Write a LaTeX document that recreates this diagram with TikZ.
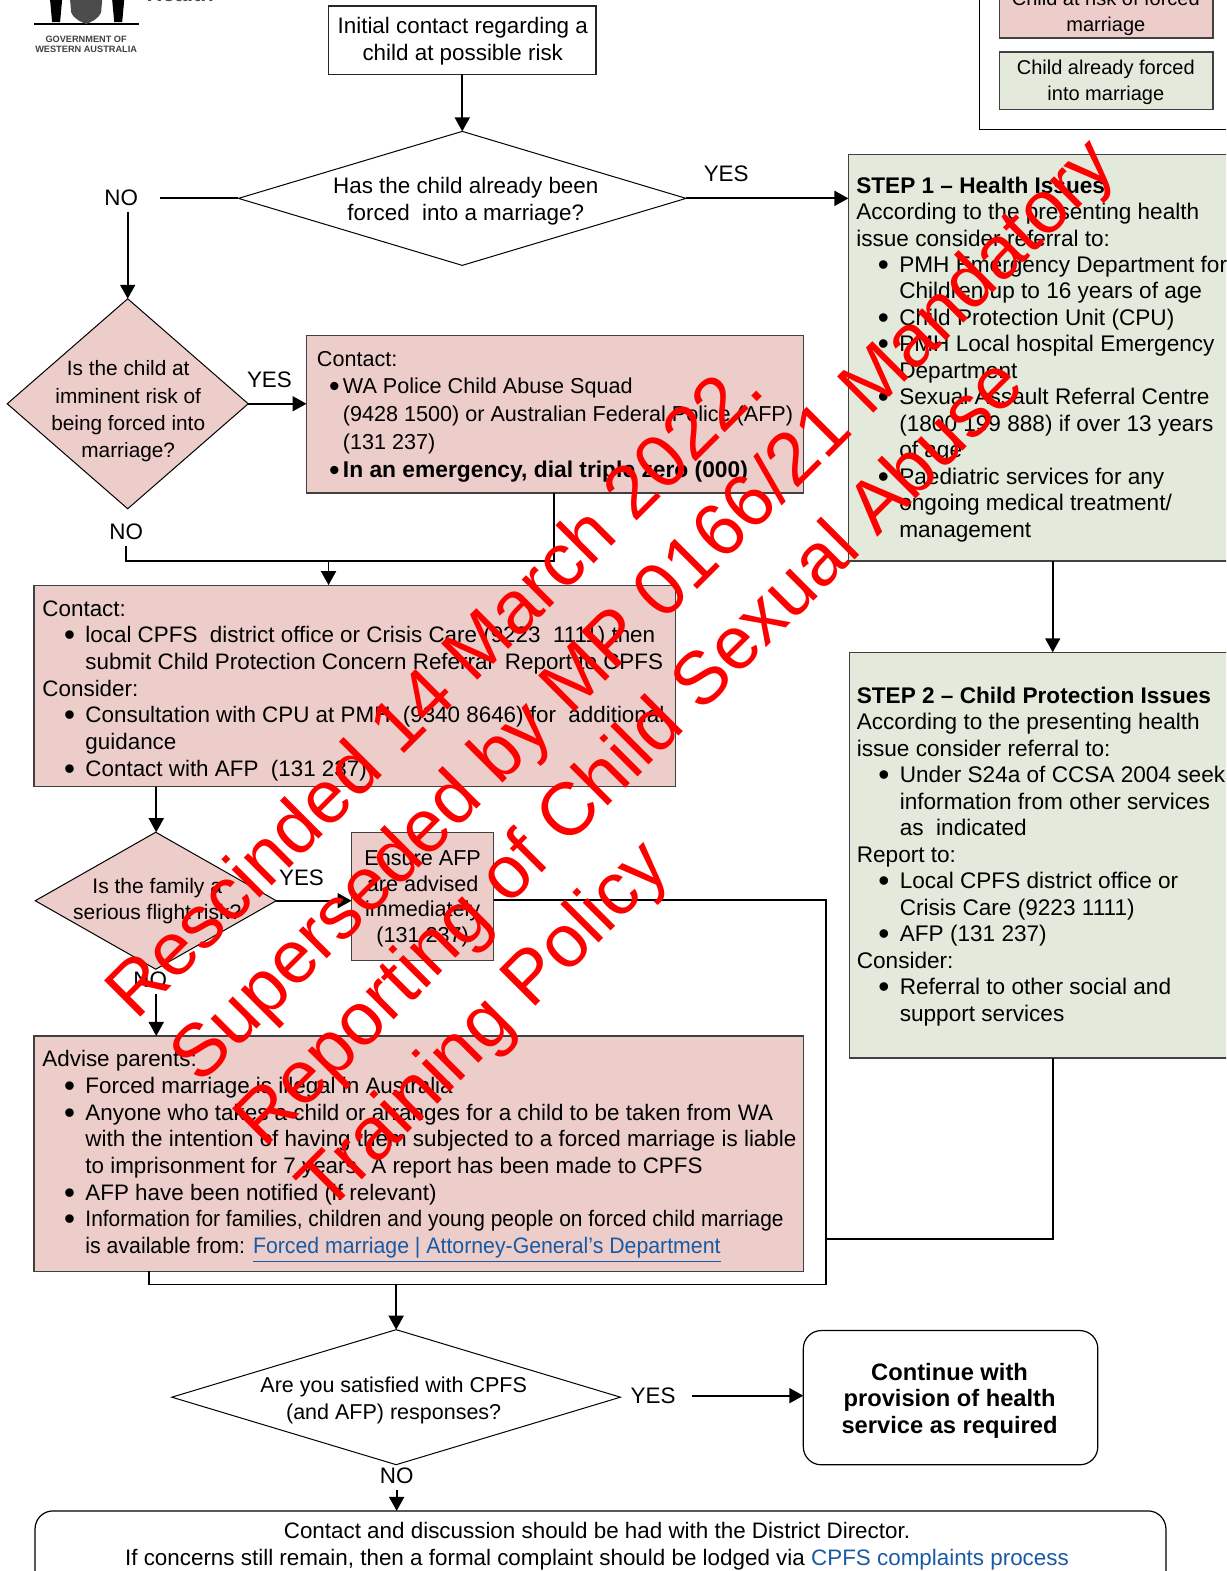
\documentclass[tikz,border=0pt]{standalone}
\usepackage{fontspec}
\usepackage{graphicx}
\setmainfont{Liberation Sans}
\usetikzlibrary{arrows.meta,fit,shapes.geometric}
\colorlet{box edge}{black!75}
\definecolor{risk fill}{RGB}{236,205,202}
\definecolor{forced fill}{RGB}{228,234,219}
\definecolor{link blue}{RGB}{25,90,165}
\tikzset{
  box/.style={draw=box edge, line width=0.6pt, inner sep=0pt, outer sep=0pt},
  riskbox/.style={box, fill=risk fill},
  forcedbox/.style={box, fill=forced fill},
  plainbox/.style={box, draw=black, fill=white},
  decision/.style={diamond, draw=black, line width=0.5pt, aspect=1, inner sep=0pt, outer sep=0pt},
  block/.style={anchor=north west, align=left, inner sep=0pt, font=\fontsize{11.2}{13.35}\selectfont},
  words/.style={align=center, inner sep=0pt, font=\fontsize{11.2}{13.5}\selectfont},
  answer/.style={inner sep=3pt, font=\fontsize{11.2}{13.35}\selectfont},
  stamp/.style={anchor=base west, rotate=45, inner sep=0pt, text=red, font=\fontsize{37.3}{45}\selectfont}
  }
\tikzstyle{rail} = [draw, line width=0.9pt, -]
\tikzstyle{flow} = [draw, line width=0.9pt, -{Triangle[length=7pt,width=7.5pt]}]
\newcommand{\bigdot}{\raisebox{-1.5pt}{\scalebox{1.4}{\textbullet}}}
\newcommand{\itm}{\hspace*{21.5pt}\llap{\bigdot\hspace{5.2pt}}}
\newcommand{\cnt}{\hspace*{21.5pt}}
\newcommand{\alertitm}{\hspace*{13pt}\llap{\bigdot\hspace{1.6pt}}}
\newcommand{\weblink}[1]{\textcolor{link blue}{\underline{#1}}}
\begin{document}
\begin{tikzpicture}[x=0.50082pt,y=-0.50096pt]

    \clip (0,0) rectangle (1224,1568);

    % The logo in the corner
    \fill (34,23) -- (139,23) -- (139,25) -- (34,25) -- cycle;
    \fill (50,0) -- (62,0) -- (60,22) -- (52,22) -- cycle;
    \fill (112,0) -- (124,0) -- (122,22) -- (114,22) -- cycle;
    \fill[black!70] (70,0) -- (102,0) -- (101,12) .. controls (98,20) and (90,22) .. (86,24) .. controls (82,22) and (74,20) .. (71,12) -- cycle;
    \node[words, font=\bfseries\fontsize{4.6}{5.2}\selectfont, text=black!75] (crestname) at (86,44) {GOVERNMENT OF\\WESTERN AUSTRALIA};
    \node[words, anchor=base, font=\bfseries\fontsize{11}{12}\selectfont, text=black!70] (healthword) at (180,2) {Health};

    % The legend
    \node[plainbox, fit={(978,-30) (1240,129)}] (legend) {};
    \node[riskbox, fit={(998,-30) (1211,38)}] (legendrisk) {};
    \node[forcedbox, fit={(998,52) (1211,109)}] (legendforced) {};
    \node[words, font=\fontsize{10}{12.9}\selectfont] (legendrisktext) at (1104,13.5) {Child at risk of forced\\marriage};
    \node[words, font=\fontsize{10}{12.9}\selectfont] (legendforcedtext) at (1104,82) {Child already forced\\into marriage};

    % The boxes
    \node[plainbox, draw=black!85, fit={(328,6) (595,74)}] (initial) {};
    \node[riskbox, fit={(306,335) (802,492)}] (police) {};
    \node[riskbox, fit={(34,584) (674,785)}] (cpfs) {};
    \node[riskbox, fit={(351,831) (493,959)}] (ensure) {};
    \node[riskbox, fit={(34,1034) (802,1269)}] (advise) {};
    \node[forcedbox, fit={(847,154) (1240,560)}] (stepone) {};
    \node[forcedbox, fit={(848,651) (1240,1056)}] (steptwo) {};
    \node[plainbox, draw=black, rounded corners=9pt, fit={(802,1328) (1096,1462)}] (proceed) {};
    \node[plainbox, draw=black, rounded corners=9pt, fit={(35,1508) (1164,1600)}] (director) {};

    % The questions
    \node[decision, minimum width=223.8pt, minimum height=67pt] (forced) at (461.5,198) {};
    \node[decision, fill=risk fill, minimum width=120.5pt, minimum height=105pt] (imminent) at (127.5,403) {};
    \node[decision, fill=risk fill, minimum width=120.5pt, minimum height=68.5pt] (flight) at (155.5,899) {};
    \node[decision, minimum width=224.3pt, minimum height=67.5pt] (satisfied) at (395.5,1394.5) {};

    % The answers
    \foreach \pos/\name/\said in {{(121,197)/noforced/NO}, {(725,173)/yesforced/YES}, {(269,379)/yesimminent/YES},
      {(126,531)/noimminent/NO}, {(301,876)/yesflight/YES}, {(150,978)/noflight/NO}, {(652,1393)/yessatisfied/YES}, {(396,1473)/nosatisfied/NO}}
      \node[answer] (\name) at \pos {\said};

    % The texts
    \node[words] (initialtext) at (462,41) {Initial contact regarding a\\child at possible risk};
    \node[words] (forcedtext) at (465,201) {Has the child already been\\forced\ \ into a marriage?};
    \node[words, font=\fontsize{10.4}{13.6}\selectfont] (imminenttext) at (128,410.5) {Is the child at\\imminent risk of\\being forced into\\marriage?};
    \node[words, font=\fontsize{10.5}{13.2}\selectfont] (flighttext) at (157,899.5) {Is the family a\\serious flight risk?};
    \node[words, font=\fontsize{10.8}{12.9}\selectfont] (ensuretext) at (422,897) {Ensure AFP\\are advised\\immediately\\(131 237)};
    \node[words, font=\fontsize{10.75}{13.5}\selectfont] (satisfiedtext) at (393,1397.5) {Are you satisfied with CPFS\\(and AFP) responses?};
    \node[words, font=\bfseries\fontsize{11.85}{13.35}\selectfont] (proceedtext) at (948,1398) {Continue with\\provision of health\\service as required};
    \node[words] (directortext) at (596,1545.5) {Contact and discussion should be had with the District Director.\\If concerns still remain, then a formal complaint should be lodged via \weblink{CPFS complaints process}};

    \node[block, font=\fontsize{10.8}{13.9}\selectfont] (policetext) at (316,350) {Contact:\\
      \alertitm WA Police Child Abuse Squad\\
      \hspace*{13pt}(9428 1500) or Australian Federal Police (AFP)\\
      \hspace*{13pt}(131 237)\\
      \alertitm\textbf{\fontsize{11.4}{13.9}\selectfont In an emergency, dial triple zero (000)}};
    \node[block] (cpfstext) at (42,599) {Contact:\\
      \itm local CPFS\ \ district office or Crisis Care (9223\ \ 1111) then\\
      \cnt submit Child Protection Concern Referral\ \ Report to CPFS\\
      Consider:\\
      \itm Consultation with CPU at PMH\ \ (9340 8646) for\ \ additional\\
      \cnt guidance\\
      \itm Contact with AFP\ \ (131 237)};
    \node[block] (advisetext) at (42,1048) {Advise parents:\\
      \itm Forced marriage is illegal in Australia\\
      \itm Anyone who takes a child or arranges for a child to be taken from WA\\
      \cnt with the intention of having them subjected to a forced marriage is liable\\
      \cnt to imprisonment for 7 years. A report has been made to CPFS\\
      \itm AFP have been notified (if relevant)\\
      \itm \scalebox{0.933}[1]{Information for families, children and young people on forced child marriage}\\
      \cnt \scalebox{0.95}[1]{is available from: \weblink{Forced marriage | Attorney-General's Department}}};
    \node[block, font=\fontsize{11.3}{13.23}\selectfont] (steponetext) at (854.5,176) {\textbf{STEP 1 – Health Issues}\\
      According to the presenting health\\
      issue consider referral to:\\
      \itm PMH Emergency Department for\\
      \cnt Children up to 16 years of age\\
      \itm Child Protection Unit (CPU)\\
      \itm PMH Local hospital Emergency\\
      \cnt Department\\
      \itm Sexual Assault Referral Centre\\
      \cnt (1800 199 888) if over 13 years\\
      \cnt of age\\
      \itm Paediatric services for any\\
      \cnt ongoing medical treatment/\\
      \cnt management};
    \node[block, font=\fontsize{11.3}{13.25}\selectfont] (steptwotext) at (855,685) {\textbf{STEP 2 – Child Protection Issues}\\
      According to the presenting health\\
      issue consider referral to:\\
      \itm Under S24a of CCSA 2004 seek\\
      \cnt information from other services\\
      \cnt as\ \ indicated\\
      Report to:\\
      \itm Local CPFS district office or\\
      \cnt Crisis Care (9223 1111)\\
      \itm AFP (131 237)\\
      Consider:\\
      \itm Referral to other social and\\
      \cnt support services};

    % The points where the lines turn
    \coordinate (policedrop) at (553,560);
    \coordinate (cpfsdrop) at (328,560);
    \coordinate (riskdrop) at (156,810);
    \coordinate (raintop) at (825,898);
    \coordinate (rainend) at (149,1282);
    \coordinate (stepdrop) at (1051,1237);
    \coordinate (noturn) at (126,560);
    \coordinate (nostart) at (160,198);

    % The lines that end in a head
    \path[flow] (initial.south -| forced.north) -- (forced.north);
    \path[flow] (forced.east) -- (stepone.west |- forced.east);
    \path[flow] (noforced.south -| imminent.north) -- (imminent.north);
    \path[flow] (imminent.east) -- (police.west |- imminent.east);
    \path[flow] (cpfsdrop) -- (cpfs.north -| cpfsdrop);
    \path[flow] (cpfs.south -| riskdrop) -- (flight.north -| riskdrop);
    \path[flow] (flight.east) -- (ensure.west |- flight.east);
    \path[flow] (noflight.south -| riskdrop) -- (advise.north -| riskdrop);
    \path[flow] (stepone.south -| stepdrop) -- (steptwo.north -| stepdrop);
    \path[flow] (rainend -| satisfied.north) -- (satisfied.north);
    \path[flow] (yessatisfied.east) ++(10,0) -- (proceed.west |- yessatisfied.east);
    \path[flow] (nosatisfied.south) -- (director.north -| nosatisfied.south);

    % The lines that only join
    \path[rail] (nostart) -- (forced.west);
    \path[rail] (police.south -| policedrop) -- (policedrop) -- (noturn) -- (noimminent.south -| noturn);
    \path[rail] (ensure.east |- raintop) -- (raintop) -- (raintop |- rainend) -- (rainend) -- (advise.south -| rainend);
    \path[rail] (steptwo.south -| stepdrop) -- (stepdrop) -- (stepdrop -| raintop);

    % The words laid over everything
    \foreach \pos/\name/\said in {{(136,1020)/stampone/{Rescinded 14 March 2022.}}, {(200,1084)/stamptwo/{Superseded by MP 0166/21 Mandatory}},
      {(264,1148)/stampthree/{Reporting of Child Sexual Abuse}}, {(327,1212)/stampfour/{Training Policy}}}
      \node[stamp] (\name) at \pos {\said};
\end{tikzpicture}
\end{document}
